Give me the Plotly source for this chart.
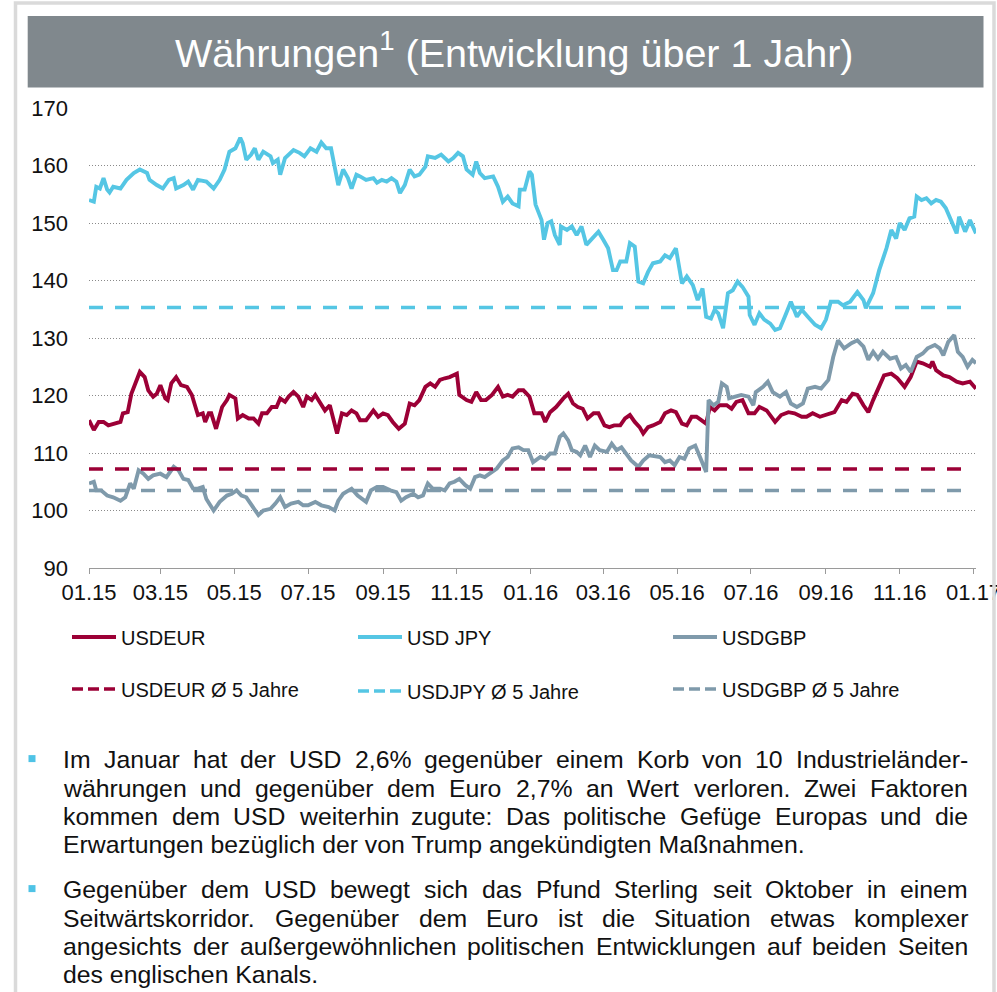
import pandas as pd
import plotly.graph_objects as go

# ---------------- data ----------------
# x = days after 01.01.2015, y = index value
eur_days = [0,4,8,12,16,21,26,28,32,35,38,42,46,49,53,56,59,63,65,68,72,76,81,85,88,90,94,96,99,101,
            105,110,114,116,121,123,127,132,136,140,143,147,151,155,158,162,165,169,173,177,180,184,187,191,
            195,199,202,205,209,213,217,221,
            224,229,235,239,243,247,251,256,261,265,269,273,278,282,286,290,294,298,304,306,312,316,320,324,
            328,333,338,342,346,350,355,359,364,368,374,377,381,386,392,396,400,404,408,412,417,421,426,430,
            434,439,443,447,451,455,458,462,466,
            472,476,481,485,490,494,498,502,506,510,513,517,521,527,531,535,540,545,550,554,560,567,572,578,
            583,589,593,598,604,609,616,622,626,631,635,640,644,648,653,657,663,668,674,679,684,689,695,697,
            700,706,711,717,722,728,733]
eur_vals = [115.7,114.0,115.4,115.4,114.8,115.1,115.4,116.9,117.1,120.3,122.1,124.1,123.2,120.9,119.8,120.3,
            121.8,119.5,119.2,122.1,123.2,121.8,121.5,120.1,118.0,116.6,116.9,115.4,116.9,116.9,114.2,118.0,
            119.2,120.1,119.5,116.0,116.6,116.0,116.0,115.1,116.9,116.9,118.0,118.0,119.5,118.9,119.8,120.6,
            119.8,118.0,119.8,119.2,120.1,118.6,117.4,118.3,115.7,113.4,116.9,116.6,117.4,116.9,
            115.7,115.7,117.4,116.3,116.9,116.6,115.4,114.2,115.1,118.6,118.3,119.2,121.5,122.1,121.5,122.7,
            123.0,123.2,123.8,120.1,119.2,118.9,120.6,119.2,119.2,120.1,121.5,119.8,120.1,119.8,120.9,120.9,
            119.8,116.9,116.9,115.4,117.1,118.0,119.5,120.3,118.6,118.0,117.7,116.0,116.9,116.9,114.8,114.5,
            114.8,114.8,116.0,116.6,115.4,114.5,113.4,114.5,114.8,
            115.4,116.9,117.4,117.1,115.1,114.8,116.3,116.3,115.7,115.1,118.0,117.4,118.3,118.3,117.7,118.9,
            119.2,116.9,116.9,118.0,117.4,115.4,116.6,117.1,116.9,116.3,116.3,116.9,116.3,116.6,117.1,119.2,
            118.9,120.3,120.1,118.3,117.1,119.2,121.5,123.5,123.8,123.0,121.5,123.2,125.9,125.6,125.0,125.9,
            124.4,123.5,123.2,122.4,122.1,122.4,121.2]

jpy_days = [0,4,6,9,12,15,17,20,26,31,37,42,48,50,56,61,66,70,72,78,82,86,90,97,103,108,112,116,121,125,
            127,130,134,137,140,144,150,152,156,158,162,169,174,178,183,188,192,196,200,206,210,214,217,221,
            224,229,235,238,242,246,250,254,257,261,265,269,273,278,280,286,291,297,301,305,309,312,317,320,
            323,327,334,338,342,346,350,355,356,360,364,366,369,374,376,379,382,385,389,390,395,399,403,407,
            411,417,421,425,429,433,436,439,444,447,451,454,458,462,466,
            472,476,480,485,490,494,499,503,507,510,514,517,520,524,528,532,536,540,545,546,550,554,558,563,
            567,571,575,580,585,589,594,600,605,609,613,619,623,629,635,640,642,648,653,659,663,667,670,674,
            678,682,684,688,692,696,700,704,708,713,717,719,724,728,733]
jpy_vals = [154.0,153.7,156.3,156.0,157.8,155.8,155.3,156.3,156.0,157.5,158.7,159.3,158.7,157.5,156.6,156.0,
            157.5,157.8,156.0,156.6,157.2,155.8,157.5,157.2,156.0,157.5,159.3,162.4,163.0,164.8,163.9,161.0,
            161.9,163.0,161.0,162.4,161.6,160.4,161.0,158.4,161.3,162.7,162.2,161.6,163.0,162.4,164.0,163.0,
            163.0,156.6,159.3,157.8,156.0,158.4,
            158.1,157.5,157.8,157.0,157.5,157.2,157.8,157.2,155.2,156.6,159.3,158.1,158.4,159.8,161.6,161.3,
            161.9,160.7,161.3,162.2,161.6,159.3,158.4,160.7,158.7,157.8,158.1,156.3,153.7,154.6,153.4,152.9,
            155.8,155.8,159.0,158.4,153.2,150.5,147.1,150.0,150.3,147.9,146.2,149.4,148.8,149.4,147.9,149.4,
            146.2,147.6,148.5,147.1,145.6,141.8,141.8,143.3,143.3,146.5,145.9,139.8,139.5,141.5,143.0,
            143.3,144.4,143.9,145.6,139.5,140.7,139.2,136.6,138.6,133.7,133.4,134.9,134.3,131.7,137.8,138.3,
            139.8,138.9,137.2,134.0,132.3,134.3,133.2,132.5,131.4,131.7,133.7,136.3,133.7,134.9,133.7,132.3,
            131.7,133.2,136.3,136.3,135.7,136.3,138.0,136.6,135.2,137.8,141.8,145.6,148.8,147.3,150.0,148.8,
            150.8,151.1,154.6,154.0,154.3,153.4,154.0,153.7,152.6,150.0,148.2,151.1,148.5,150.5,148.2]

gbp_days = [0,4,6,10,15,20,26,30,34,37,41,45,49,53,59,64,70,74,78,82,86,90,94,97,103,108,114,118,122,126,
            130,136,140,144,150,154,158,162,167,173,177,181,187,192,198,203,206,210,217,222,
            224,229,233,238,243,249,254,258,262,268,272,276,280,284,290,294,298,302,306,311,315,319,323,327,
            331,337,342,346,350,355,359,363,367,373,377,381,385,389,392,396,399,403,406,410,414,418,422,428,
            432,436,440,444,448,454,458,463,469,
            472,476,480,484,488,492,496,501,505,510,512,516,520,523,527,529,534,539,545,549,551,557,561,565,
            571,576,580,585,590,594,600,605,611,615,619,624,630,635,640,644,648,652,656,662,667,671,675,679,
            684,689,693,699,703,706,710,715,718,722,726,730,733]
gbp_vals = [104.7,105.0,103.5,103.5,102.6,102.3,101.7,102.3,104.7,103.8,107.0,106.4,105.5,106.1,106.4,105.8,
            107.6,107.0,105.5,105.3,103.8,103.8,104.1,102.0,100.0,101.5,102.6,102.9,103.5,102.6,102.3,100.3,
            99.2,100.0,100.3,101.2,102.3,100.6,101.2,101.5,100.9,100.9,101.5,100.9,100.6,100.0,101.7,102.9,
            103.8,102.6,
            102.3,101.5,103.5,104.1,104.1,103.5,103.2,101.7,102.3,102.9,102.3,102.6,104.7,103.8,103.8,103.5,
            104.7,105.0,105.5,104.4,103.8,105.8,106.1,105.8,106.4,107.3,108.7,109.3,110.8,111.0,110.5,110.5,
            108.4,109.3,109.0,109.9,109.9,112.8,113.4,112.2,110.5,110.2,109.6,111.3,109.3,111.3,110.5,110.2,
            111.6,110.5,111.0,109.9,108.7,107.6,108.7,109.6,109.3,
            109.3,108.4,108.7,107.9,109.3,109.0,110.8,111.3,109.3,106.7,119.2,118.3,118.9,122.1,121.5,119.5,
            119.8,120.1,119.8,118.3,120.6,121.5,122.4,120.6,119.8,120.6,118.6,118.0,118.6,121.2,121.5,121.2,
            122.7,126.7,129.6,128.2,129.1,129.6,128.5,126.2,127.6,126.4,127.6,126.4,126.7,124.7,125.3,124.1,
            126.7,127.3,128.2,128.8,128.2,127.0,129.3,130.5,127.6,126.7,125.0,126.2,125.6]

# 5-year averages and the span of the dashed average lines (days)
avg_eur = 107.2
avg_jpy = 135.3
avg_gbp = 103.5
avg_span_days = [0, 722]

series_names = ["USDEUR", "USD JPY", "USDGBP",
                "USDEUR Ø 5 Jahre", "USDJPY Ø 5 Jahre", "USDGBP Ø 5 Jahre"]
y_ticks = [90, 100, 110, 120, 130, 140, 150, 160, 170]

title_text = "Währungen<sup>1</sup> (Entwicklung über 1 Jahr)"
paragraphs = [
    ["Im Januar hat der USD 2,6% gegenüber einem Korb von 10 Industrieländer-",
     "währungen und gegenüber dem Euro 2,7% an Wert verloren. Zwei Faktoren",
     "kommen dem USD weiterhin zugute: Das politische Gefüge Europas und die",
     "Erwartungen bezüglich der von Trump angekündigten Maßnahmen."],
    ["Gegenüber dem USD bewegt sich das Pfund Sterling seit Oktober in einem",
     "Seitwärtskorridor. Gegenüber dem Euro ist die Situation etwas komplexer",
     "angesichts der außergewöhnlichen politischen Entwicklungen auf beiden Seiten",
     "des englischen Kanals."],
]

# ---------------- styling / layout ----------------
C_EUR = "#9c0036"
C_JPY = "#55c6e4"
C_GBP = "#7f9aab"
FONT = "Liberation Sans, Arial, Helvetica, sans-serif"

W, H = 997, 992
L, R, T, B = 89, 21, 108, 424
PW, PH = W - L - R, H - T - B
BOT = H - B


def px2x(px):
    return (px - L) / PW


def py2y(py):
    return (BOT - py) / PH


start = pd.Timestamp("2015-01-01")


def to_dates(days):
    return start + pd.to_timedelta(days, unit="D")


fig = go.Figure()
for days, vals, color, name, leg in [
    (eur_days, eur_vals, C_EUR, series_names[0], "legend"),
    (jpy_days, jpy_vals, C_JPY, series_names[1], "legend2"),
    (gbp_days, gbp_vals, C_GBP, series_names[2], "legend3"),
]:
    fig.add_trace(go.Scatter(x=to_dates(days), y=vals, mode="lines", name=name,
                             line=dict(color=color, width=3.9), legend=leg, hoverinfo="skip"))

for val, color, name, leg in [
    (avg_eur, C_EUR, series_names[3], "legend4"),
    (avg_jpy, C_JPY, series_names[4], "legend5"),
    (avg_gbp, C_GBP, series_names[5], "legend6"),
]:
    fig.add_trace(go.Scatter(x=to_dates(avg_span_days), y=[val, val], mode="lines", name=name,
                             line=dict(color=color, width=3.5, dash="14px,12px"),
                             showlegend=False, hoverinfo="skip"))
    # legend sample with the shorter dash pattern used in the reference legend
    fig.add_trace(go.Scatter(x=[None], y=[None], mode="lines", name=name,
                             line=dict(color=color, width=3.5, dash="11px,5px"), legend=leg))

# legends: one per entry so each can sit at its own place
leg_pos = {"legend": (67, 637), "legend2": (353, 637), "legend3": (668, 637),
           "legend4": (67, 689), "legend5": (353, 691), "legend6": (668, 689)}
legends = {}
for k, (lx, ly) in leg_pos.items():
    legends[k] = dict(x=px2x(lx), y=py2y(ly), xanchor="left", yanchor="middle",
                      bgcolor="rgba(0,0,0,0)", borderwidth=0, itemwidth=44,
                      font=dict(family=FONT, size=20, color="#111111"))

# ---- page frame and title bar ----
shapes = [
    dict(type="rect", xref="paper", yref="paper", x0=px2x(27.7), x1=px2x(983.5), y0=py2y(87.5), y1=py2y(16),
         line=dict(width=0), fillcolor="#80888d", layer="below"),
    dict(type="rect", xref="paper", yref="paper", x0=px2x(15.5), x1=px2x(994), y0=py2y(1100), y1=py2y(3),
         line=dict(color="#dadada", width=3.5), fillcolor="rgba(0,0,0,0)", layer="above"),
]

annotations = [
    dict(text=title_text, xref="paper", yref="paper", x=px2x(513.5), y=py2y(75.5), xanchor="center",
         yanchor="bottom", showarrow=False, borderpad=0, borderwidth=0,
         font=dict(family=FONT, size=39.5, color="white")),
]

# ---- body text, justified like the reference ----
AW = {" ": 278, ",": 278, "%": 889, ".": 278, "-": 333, ":": 278, "Ø": 778, "ß": 611,
      "ä": 556, "ö": 556, "ü": 556}
for c in "0123456789":
    AW[c] = 556
AW.update(dict(zip("ABCDEFGHIJKLMNOPQRSTUVWXYZ",
                   [667, 667, 722, 722, 667, 611, 778, 722, 278, 500, 667, 556, 833, 722, 778, 667, 778,
                    722, 667, 611, 722, 667, 944, 667, 667, 611])))
AW.update(dict(zip("abcdefghijklmnopqrstuvwxyz",
                   [556, 556, 500, 556, 556, 278, 556, 556, 222, 222, 500, 222, 833, 556, 556, 556, 556,
                    333, 500, 278, 556, 500, 722, 500, 500, 500])))
BODY_SIZE = 24.8


def tw(s):
    return sum(AW.get(c, 556) for c in s) * BODY_SIZE / 1000


TXT_L, TXT_R = 63.3, 968
para_top = [759.6, 889.6]
LINE_H = 28.4
for p, lines in enumerate(paragraphs):
    y0 = para_top[p]
    shapes.append(dict(type="rect", xref="paper", yref="paper", x0=px2x(28.5), x1=px2x(35.5),
                       y0=py2y(y0 + 2.5), y1=py2y(y0 - 4.5), line=dict(width=0), fillcolor="#4fc3e6"))
    for i, line in enumerate(lines):
        yy = py2y(y0 + i * LINE_H)
        if i == len(lines) - 1:
            annotations.append(dict(text=line, xref="paper", yref="paper", x=px2x(TXT_L), y=yy,
                                    xanchor="left", yanchor="middle", showarrow=False, borderpad=0,
                                    borderwidth=0, font=dict(family=FONT, size=BODY_SIZE, color="#111111")))
            continue
        words = line.split(" ")
        gap = (TXT_R - TXT_L - sum(tw(w) for w in words)) / (len(words) - 1)
        xx = TXT_L
        for w in words:
            annotations.append(dict(text=w, xref="paper", yref="paper", x=px2x(xx), y=yy,
                                    xanchor="left", yanchor="middle", showarrow=False, borderpad=0,
                                    borderwidth=0, font=dict(family=FONT, size=BODY_SIZE, color="#111111")))
            xx += tw(w) + gap

fig.update_layout(
    width=W, height=H, margin=dict(l=L, r=R, t=T, b=B, autoexpand=False),
    paper_bgcolor="white", plot_bgcolor="white",
    shapes=shapes, annotations=annotations,
    **legends,
    xaxis=dict(type="date", range=[start, start + pd.Timedelta(days=733)],
               tick0="2015-01-01", dtick="M2", tickformat="%m.%y", ticklabeloverflow="allow",
               showgrid=False, zeroline=False, showline=True, linecolor="#9a9a9a", linewidth=1,
               ticks="outside", ticklen=5, tickcolor="#9a9a9a", automargin=False,
               tickfont=dict(family=FONT, size=22, color="#111111")),
    yaxis=dict(range=[90, 170], tickvals=y_ticks, showgrid=True, gridcolor="#8a8a8a", gridwidth=1,
               griddash="1px,2px", zeroline=False, showline=False, ticks="", ticklabelstandoff=20,
               automargin=False, tickfont=dict(family=FONT, size=22, color="#111111")),
    showlegend=True,
)

fig.write_html("out.html", config={"displayModeBar": False},
               post_script="document.body.style.margin='0';")
